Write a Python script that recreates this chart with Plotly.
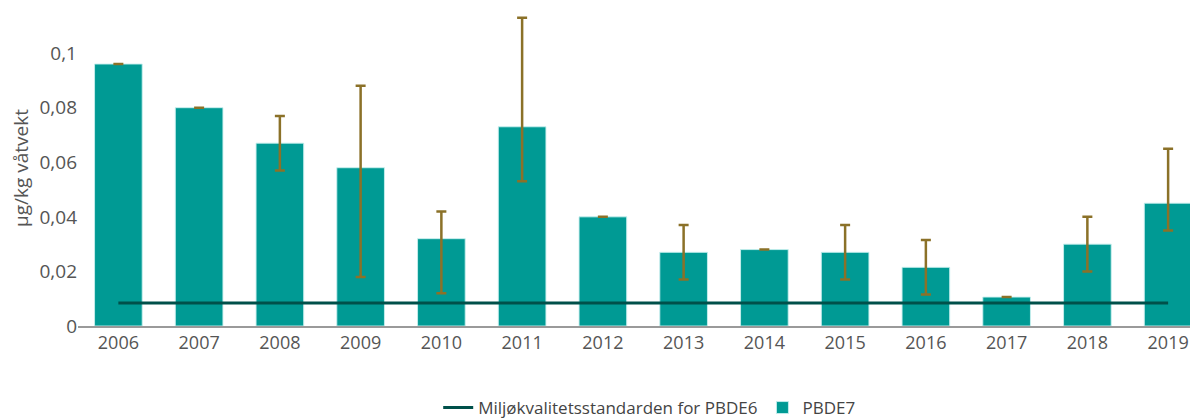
import plotly.graph_objects as go

years = ["2006", "2007", "2008", "2009", "2010", "2011", "2012",
         "2013", "2014", "2015", "2016", "2017", "2018", "2019"]
pbde7 = [0.096, 0.080, 0.067, 0.058, 0.032, 0.073, 0.040,
         0.027, 0.028, 0.027, 0.0215, 0.0106, 0.030, 0.045]
err_plus = [0, 0, 0.010, 0.030, 0.010, 0.040, 0,
            0.010, 0, 0.010, 0.010, 0, 0.010, 0.020]
err_minus = [0, 0, 0.010, 0.040, 0.020, 0.020, 0,
             0.010, 0, 0.010, 0.010, 0, 0.010, 0.010]
standard_value = 0.0084
standard_x = ["2006", "2019"]

font = "Open Sans, Noto Sans, sans-serif"

fig = go.Figure()
fig.add_trace(go.Scatter(
    x=standard_x, y=[standard_value] * len(standard_x),
    mode="lines", name="Miljøkvalitetsstandarden for PBDE6",
    line=dict(color="#00504a", width=3),
))
fig.add_trace(go.Bar(
    x=years, y=pbde7, name="PBDE7",
    marker=dict(color="#009a94", line=dict(color="rgba(200,240,238,0.9)", width=1)),
    error_y=dict(type="data", symmetric=False, array=err_plus, arrayminus=err_minus,
                 color="#8b7128", thickness=2.5, width=5),
))

fig.update_layout(
    width=1198, height=418,
    margin=dict(l=70, r=8, t=2, b=100),
    paper_bgcolor="white", plot_bgcolor="white",
    separators=", ",
    bargap=0.41,
    font=dict(family=font, color="#555555"),
    showlegend=True,
    legend=dict(orientation="h", x=0.51, xanchor="center",
                yref="container", y=0.0, yanchor="bottom",
                font=dict(size=17, color="#444444")),
    xaxis=dict(type="category", categoryorder="array", categoryarray=years,
               range=[-0.5, 13.37], showgrid=False, automargin=False,
               showline=True, linecolor="#9a9a9a", linewidth=1.5,
               ticks="", tickfont=dict(size=18, color="#555555")),
    yaxis=dict(range=[0, 0.1158], dtick=0.02, showgrid=False, zeroline=False,
               automargin=False,
               showline=False, ticks="", tickfont=dict(size=19, color="#555555"),
               title=dict(text="µg/kg våtvekt", font=dict(size=19, color="#555555"), standoff=6)),
)

fig.write_html("out.html")
